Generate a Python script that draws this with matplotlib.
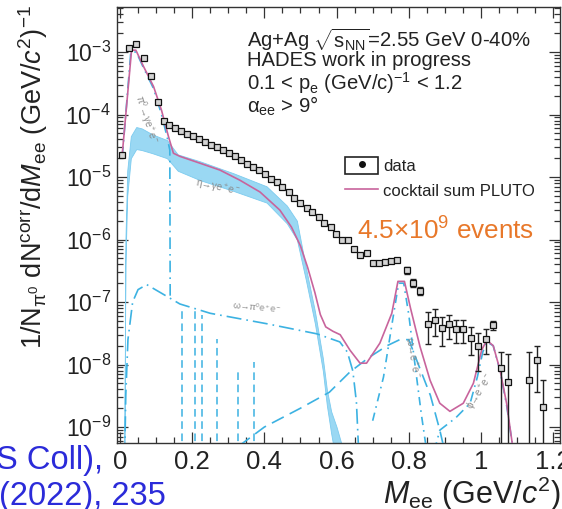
import matplotlib
matplotlib.use('Agg')
import matplotlib.pyplot as plt
import matplotlib.patches as mpatches
from matplotlib.lines import Line2D
from matplotlib.legend_handler import HandlerTuple
from matplotlib.ticker import MultipleLocator, LogLocator, FuncFormatter, NullFormatter
import numpy as np

plt.rcParams['font.family'] = ['Liberation Sans', 'DejaVu Sans']
plt.rcParams['mathtext.fontset'] = 'custom'
plt.rcParams['mathtext.rm'] = 'Liberation Sans'
plt.rcParams['mathtext.it'] = 'Liberation Sans:italic'
plt.rcParams['mathtext.bf'] = 'Liberation Sans:bold'
plt.rcParams['mathtext.sf'] = 'Liberation Sans'
plt.rcParams['mathtext.default'] = 'regular'

# --- data points (M_ee in GeV/c^2, yield) ---
data_x = [0.005, 0.025, 0.045, 0.067, 0.087, 0.104, 0.121, 0.137, 0.153, 0.168,
          0.185, 0.203, 0.218, 0.236, 0.252, 0.269, 0.285, 0.302, 0.319, 0.335,
          0.351, 0.368, 0.384, 0.401, 0.418, 0.434, 0.450, 0.467, 0.483, 0.500,
          0.517, 0.533, 0.550, 0.566, 0.584, 0.599, 0.616, 0.632, 0.649, 0.665,
          0.683, 0.701, 0.718, 0.734, 0.750, 0.767, 0.794, 0.813, 0.831, 0.852,
          0.874, 0.892, 0.912, 0.931, 0.951, 0.972, 0.993, 1.014, 1.034, 1.055,
          1.076, 1.134, 1.154, 1.173]
data_y = [2.24e-5, 1.15e-3, 1.35e-3, 8.1e-4, 4.1e-4, 1.58e-4, 7.9e-5, 6.9e-5, 6.0e-5, 5.4e-5,
          4.9e-5, 4.5e-5, 4.1e-5, 3.6e-5, 3.3e-5, 3.0e-5, 2.7e-5, 2.4e-5, 2.14e-5, 1.9e-5,
          1.62e-5, 1.45e-5, 1.29e-5, 1.10e-5, 9.3e-6, 8.3e-6, 6.9e-6, 5.75e-6, 4.7e-6, 3.8e-6,
          3.2e-6, 2.75e-6, 2.3e-6, 1.82e-6, 1.58e-6, 1.23e-6, 1.0e-6, 9.8e-7, 7.1e-7, 5.75e-7,
          6.0e-7, 4.2e-7, 4.2e-7, 4.3e-7, 4.5e-7, 4.7e-7, 3.2e-7, 2.0e-7, 1.5e-7, 4.5e-8,
          5.2e-8, 3.9e-8, 4.4e-8, 3.7e-8, 3.7e-8, 2.7e-8, 2.0e-8, 2.6e-8, 4.3e-8, 8.7e-9,
          5.2e-9, 5.6e-9, 1.2e-8, 2.1e-9]
# error bar ends for the high-mass points
bar_x = [0.794, 0.813, 0.831, 0.852, 0.874, 0.892, 0.912, 0.931, 0.951, 0.972,
         0.993, 1.014, 1.034, 1.055, 1.076, 1.134, 1.154, 1.173]
bar_y = [3.2e-7, 2.0e-7, 1.5e-7, 4.5e-8, 5.2e-8, 3.9e-8, 4.4e-8, 3.7e-8, 3.7e-8, 2.7e-8,
         2.0e-8, 2.6e-8, 4.3e-8, 8.7e-9, 5.2e-9, 5.6e-9, 1.2e-8, 2.1e-9]
bar_lo = [2.8e-7, 1.75e-7, 1.3e-7, 2.1e-8, 2.9e-8, 2.0e-8, 2.6e-8, 2.2e-8, 2.2e-8, 1.4e-8,
          8.0e-9, 1.5e-8, 3.6e-8, 1e-10, 1e-10, 1e-10, 3.6e-9, 1e-10]
bar_hi = [3.6e-7, 2.3e-7, 1.75e-7, 6.9e-8, 7.6e-8, 5.8e-8, 6.2e-8, 5.2e-8, 5.2e-8, 4.0e-8,
          3.2e-8, 3.7e-8, 5.0e-8, 1.6e-8, 1.45e-8, 1.6e-8, 2.0e-8, 5.6e-9]

# --- cocktail sum PLUTO ---
sum_x = [0.006, 0.032, 0.044, 0.065, 0.093, 0.115, 0.134, 0.148, 0.166, 0.222,
         0.277, 0.332, 0.388, 0.443, 0.475, 0.500, 0.520, 0.540, 0.555, 0.570,
         0.590, 0.610, 0.637, 0.665, 0.683, 0.720, 0.753, 0.770, 0.788, 0.805,
         0.831, 0.859, 0.886, 0.914, 0.951, 0.979, 1.002, 1.016, 1.034, 1.053,
         1.071, 1.090]
sum_y = [2.24e-5, 1.07e-3, 1.07e-3, 5.9e-4, 2.8e-4, 1.17e-4, 4.5e-5, 2.4e-5, 2.14e-5, 1.66e-5,
         1.29e-5, 8.9e-6, 5.75e-6, 2.95e-6, 1.58e-6, 7.9e-7, 3.55e-7, 1.41e-7, 6.3e-8, 4.0e-8,
         3.4e-8, 3.0e-8, 1.7e-8, 1.05e-8, 1.05e-8, 2.2e-8, 6.6e-8, 2.14e-7, 2.14e-7, 7.9e-8,
         1.95e-8, 5.6e-9, 2.4e-9, 1.78e-9, 2.4e-9, 5.0e-9, 1.7e-8, 2.45e-8, 2.0e-8, 8.1e-9,
         2.4e-9, 4.0e-10]

# --- eta -> gamma e+e- band ---
eta_x = [0.012, 0.015, 0.020, 0.030, 0.045, 0.060, 0.090, 0.130, 0.160, 0.222, 0.314,
         0.406, 0.462, 0.490, 0.515, 0.540, 0.562, 0.573, 0.585, 0.600, 0.615, 0.630]
eta_hi = [3.2e-10, 1.0e-6, 1.26e-5, 4.5e-5, 6.3e-5, 6.0e-5, 4.8e-5, 3.9e-5, 2.3e-5, 1.78e-5, 1.15e-5,
          7.1e-6, 3.5e-6, 2.0e-6, 3.55e-7, 7.1e-8, 1.26e-8, 4.0e-9, 1.78e-9, 1.0e-9, 5.0e-10, 2.5e-10]
eta_lo = [3.2e-10, 4.0e-7, 5.0e-6, 2.0e-5, 2.8e-5, 2.7e-5, 2.4e-5, 2.0e-5, 1.26e-5, 8.9e-6, 6.0e-6,
          3.9e-6, 1.82e-6, 1.0e-6, 2.24e-7, 4.5e-8, 7.9e-9, 2.24e-9, 7.9e-10, 2.5e-10, 1.6e-10, 1.26e-10]

# --- pi0 -> gamma e+e- ---
pi0_x = [0.006, 0.030, 0.045, 0.065, 0.093, 0.115, 0.130, 0.138, 0.139]
pi0_y = [2.0e-5, 1.0e-3, 1.0e-3, 5.6e-4, 2.6e-4, 1.0e-4, 4.5e-5, 2.7e-5, 1.2e-7]

# --- omega -> pi0 e+e- ---
omd_x = [0.013, 0.016, 0.022, 0.035, 0.050, 0.074, 0.166, 0.250, 0.406, 0.545,
         0.609, 0.630, 0.645, 0.655, 0.662]
omd_y = [3.2e-10, 3.2e-9, 2.5e-8, 1.0e-7, 1.58e-7, 1.9e-7, 9.3e-8, 6.6e-8, 4.5e-8, 3.1e-8,
         2.3e-8, 1.58e-8, 7.9e-9, 2.5e-9, 3.2e-10]

# --- rho -> e+e- ---
rho_x = [0.330, 0.400, 0.500, 0.580, 0.637, 0.690, 0.740, 0.775, 0.800, 0.830, 0.860, 0.886, 0.900]
rho_y = [5.0e-10, 1.0e-9, 2.0e-9, 3.6e-9, 7.6e-9, 1.3e-8, 2.0e-8, 2.5e-8, 2.5e-8, 8.9e-9, 3.2e-9, 8.9e-10, 4.0e-10]

# --- omega -> e+e- ---
ome_x = [0.700, 0.730, 0.755, 0.772, 0.786, 0.800, 0.815, 0.835, 0.850]
ome_y = [1.26e-9, 6.3e-9, 5.0e-8, 2.0e-7, 2.0e-7, 6.3e-8, 1.26e-8, 1.58e-9, 4.0e-10]

# --- phi -> e+e- ---
phi_x = [0.870, 0.886, 0.930, 0.970, 0.990, 1.005, 1.016, 1.034, 1.053, 1.071, 1.090]
phi_y = [4.0e-10, 8.9e-10, 1.4e-9, 2.4e-9, 6.3e-9, 1.58e-8, 2.3e-8, 2.0e-8, 7.9e-9, 2.24e-9, 4.0e-10]

# --- dropouts of a component (vertical dashed lines) ---
spike_x = [0.171, 0.208, 0.226, 0.268, 0.328, 0.371]
spike_top = [7.9e-8, 7.4e-8, 6.2e-8, 2.6e-8, 7.8e-9, 1.1e-8]

W, H = 562, 509
fig = plt.figure(figsize=(W / 100, H / 100), dpi=100)
fig.patch.set_facecolor('white')


def fx(px):
    return px / W


def fy(py):
    return 1 - py / H


ax = fig.add_axes([fx(116.5), fy(443), fx(560) - fx(116.5), fy(7) - fy(443)])
ax.set_yscale('log')
ax.set_xlim(-0.0097, 1.219)
ax.set_ylim(5.55e-10, 5.25e-3)

blue = '#3cb2e2'
pink = '#c8649c'
gray = '#8a8a8a'

ax.fill_between(eta_x, eta_lo, eta_hi, color='#9ad8f3', lw=0.6, edgecolor='#7ccbef', zorder=2)
ax.plot(pi0_x, pi0_y, color=blue, lw=1.2, ls=(0, (7, 3, 1, 3)), zorder=3)
ax.plot(omd_x, omd_y, color=blue, lw=1.2, ls=(0, (9, 3, 1, 3)), zorder=3)
ax.plot(rho_x, rho_y, color=blue, lw=1.2, ls=(0, (8, 4)), zorder=3)
ax.plot(ome_x, ome_y, color=blue, lw=1.2, ls=(0, (5, 3, 1, 3)), zorder=3)
ax.plot(phi_x, phi_y, color=blue, lw=1.2, ls=(0, (6, 3, 1, 3)), zorder=3)
ax.vlines(spike_x, 1e-10, spike_top, color=blue, lw=1.1, ls=(0, (5, 3)), zorder=3)
ax.plot(sum_x, sum_y, color=pink, lw=1.2, zorder=4)

yerr = [np.array(bar_y) - np.array(bar_lo), np.array(bar_hi) - np.array(bar_y)]
ax.errorbar(bar_x, bar_y, yerr=yerr, fmt='none', ecolor='#222222', elinewidth=1.0,
            capsize=2, capthick=1.0, zorder=5)
ax.plot(data_x, data_y, 's', ms=5, mfc='#d4d4d4', mec='#111111', mew=0.9, zorder=6)

# component labels
ax.text(0.074, 8.3e-5, r'$\pi^0\!\rightarrow\!\gamma e^+e^-$', color=gray, fontsize=7,
        rotation=-72, ha='center', va='center')
ax.text(0.27, 6.6e-6, r'$\eta\!\rightarrow\!\gamma e^+e^-$', color=gray, fontsize=7,
        rotation=-12, ha='center', va='center')
ax.text(0.38, 8.3e-8, r'$\omega\!\rightarrow\!\pi^0e^+e^-$', color=gray, fontsize=6.5,
        rotation=-5, ha='center', va='center')
ax.text(0.81, 1.3e-8, r'$\omega\!\rightarrow\!e^+e^-$', color=gray, fontsize=7,
        rotation=-80, ha='center', va='center')
ax.text(1.0, 3.6e-9, r'$\phi\!\rightarrow\!e^+e^-$', color=gray, fontsize=7,
        rotation=58, ha='center', va='center')

# axes style
for s in ax.spines.values():
    s.set_color('#333333')
    s.set_linewidth(1.0)
ax.xaxis.set_major_locator(MultipleLocator(0.2))
ax.xaxis.set_minor_locator(MultipleLocator(0.05))
ax.xaxis.set_major_formatter(FuncFormatter(lambda v, p: f'{v:g}'))
ax.yaxis.set_major_locator(LogLocator(base=10, numticks=20))
ax.yaxis.set_minor_locator(LogLocator(base=10, subs=np.arange(2, 10), numticks=20))
ax.yaxis.set_minor_formatter(NullFormatter())
ax.tick_params(which='both', direction='in', top=True, right=True, colors='#333333',
               labelcolor='#222222', width=0.9)
ax.tick_params(which='major', length=8)
ax.tick_params(which='minor', length=4.5)
ax.tick_params(axis='x', pad=5, labelsize=18.5)
ax.tick_params(axis='y', pad=4, labelsize=16.5)

fig.text(fx(33), fy(177), r'1/N$_{\pi^0}$ dN$^{corr}$/d$\mathit{M}_{ee}$ (GeV/$\mathit{c}^2$)$^{-1}$',
         rotation=90, ha='center', va='center', fontsize=19.5, color='#222222')
fig.text(fx(561), fy(494), r'$\mathit{M}_{ee}$ (GeV/$\mathit{c}^2$)', ha='right', va='center',
         fontsize=22, color='#222222')

info = [r'Ag+Ag $\sqrt{s_{NN}}$=2.55 GeV 0-40%', 'HADES work in progress',
        r'0.1 < p$_e$ (GeV/c)$^{-1}$ < 1.2', r'$\alpha_{ee}$ > 9°']
for line, py in zip(info, [40, 61, 83, 106]):
    fig.text(fx(247), fy(py), line, ha='left', va='center', fontsize=14.6, color='#222222')

data_handle = (mpatches.Rectangle((0, 0), 1, 1, facecolor='white', edgecolor='#222222', lw=1.2),
               Line2D([], [], ls='none', marker='o', ms=4, color='#111111'))
sum_handle = Line2D([], [], color=pink, lw=1.2)
leg = fig.legend([data_handle, sum_handle], ['data', 'cocktail sum PLUTO'],
                 handler_map={tuple: HandlerTuple(ndivide=1, pad=0)},
                 loc='upper left', bbox_to_anchor=(fx(345), fy(157)), frameon=False,
                 fontsize=12, handlelength=2.0, handleheight=1.2, handletextpad=0.3,
                 labelspacing=0.45, borderpad=0, borderaxespad=0)
for t in leg.get_texts():
    t.set_color('#222222')

fig.text(fx(357), fy(231), r'4.5×10$^{9}$ events', ha='left', va='center', fontsize=18.8,
         color='#e8782a')

fig.text(fx(103), fy(461), 'S Coll),', ha='right', va='center', fontsize=23.5, color='#2b2bd9')
fig.text(fx(166), fy(497), '(2022), 235', ha='right', va='center', fontsize=23.5, color='#2b2bd9')

fig.savefig('out.png', dpi=100)
